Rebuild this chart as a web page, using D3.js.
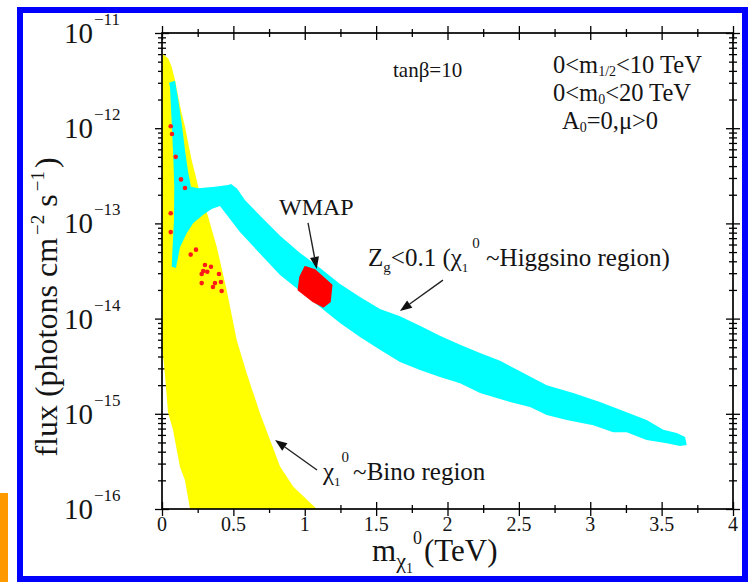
<!DOCTYPE html>
<html>
<head>
<meta charset="utf-8">
<script src="https://cdn.jsdelivr.net/npm/d3@7"></script>
<style>
  html, body { margin: 0; padding: 0; background: #fff; }
  svg { display: block; }
  text { font-family: "Liberation Serif", "Times New Roman", serif; fill: #141414; white-space: pre; }
</style>
</head>
<body>
<svg id="chart" width="751" height="582"></svg>
<script>
// Neutralino mass (TeV) versus gamma-ray flux (photons cm^-2 s^-1), tanβ = 10 scan.

const xTickValues = [0, 0.5, 1, 1.5, 2, 2.5, 3, 3.5, 4];
const xTickLabels = ["0", "0.5", "1", "1.5", "2", "2.5", "3", "3.5", "4"];
const xMinorValues = [0.25, 0.75, 1.25, 1.75, 2.25, 2.75, 3.25, 3.75];
const yDecadeExponents = [-16, -15, -14, -13, -12, -11];
const yTickLabels = ["−16", "−15", "−14", "−13", "−12", "−11"];

// Bino-like region outline: [mass, flux]
const binoRegion = [
  [0, 6.1e-12], [0.044, 5.4e-12], [0.068, 4.4e-12], [0.091, 3.2e-12], [0.114, 2.14e-12],
  [0.138, 1.43e-12], [0.161, 1.04e-12], [0.184, 6.9e-13], [0.208, 4.6e-13], [0.231, 3.36e-13],
  [0.254, 2.43e-13], [0.324, 1.17e-13], [0.383, 5.7e-14], [0.453, 2.0e-14], [0.523, 6.0e-15],
  [0.593, 2.66e-15], [0.687, 1.01e-15], [0.757, 5.3e-16], [0.827, 2.8e-16], [0.920, 1.71e-16],
  [1.084, 1e-16], [0.196, 1e-16], [0.161, 2.0e-16], [0.126, 2.76e-16], [0.077, 6.8e-16],
  [0.042, 1.04e-15], [0.021, 2.56e-15], [0, 5.3e-15]
];

// Higgsino-like region (Z_g < 0.1) outline: [mass, flux]
const higgsinoRegion = [
  [0.049, 3.0e-12], [0.091, 3.15e-12], [0.114, 1.98e-12], [0.138, 1.135e-12], [0.161, 5.9e-13],
  [0.184, 3.38e-13], [0.203, 2.43e-13], [0.254, 2.34e-13], [0.371, 2.43e-13], [0.464, 2.53e-13],
  [0.483, 2.59e-13], [0.525, 2.33e-13], [0.581, 1.76e-13], [0.687, 1.20e-13], [0.827, 7.4e-14],
  [0.967, 4.9e-14], [1.107, 3.4e-14], [1.247, 2.31e-14], [1.387, 1.69e-14], [1.527, 1.26e-14],
  [1.667, 1.06e-14], [1.807, 8.4e-15], [1.947, 6.6e-15], [2.088, 5.3e-15], [2.228, 4.35e-15],
  [2.368, 3.6e-15], [2.508, 2.8e-15], [2.695, 2.0e-15], [2.881, 1.65e-15], [3.068, 1.33e-15],
  [3.255, 1.04e-15], [3.395, 8.6e-16], [3.512, 6.8e-16], [3.606, 6.3e-16], [3.664, 5.7e-16],
  [3.676, 4.7e-16], [3.629, 4.6e-16], [3.536, 4.9e-16], [3.395, 5.3e-16], [3.255, 6.4e-16],
  [3.161, 6.4e-16], [3.021, 7.6e-16], [2.835, 8.6e-16], [2.695, 9.7e-16], [2.578, 1.18e-15],
  [2.415, 1.36e-15], [2.228, 1.65e-15], [2.088, 2.1e-15], [1.947, 2.44e-15], [1.807, 2.88e-15],
  [1.667, 3.5e-15], [1.527, 4.7e-15], [1.387, 6.4e-15], [1.247, 9.0e-15], [1.107, 1.32e-14],
  [0.967, 1.95e-14], [0.827, 2.87e-14], [0.687, 4.8e-14], [0.546, 8.1e-14], [0.453, 1.23e-13],
  [0.406, 1.52e-13], [0.348, 1.42e-13], [0.289, 1.23e-13], [0.219, 1.01e-13], [0.173, 7.9e-14],
  [0.126, 5.6e-14], [0.098, 3.4e-14], [0.068, 3.5e-14], [0.072, 4.9e-14], [0.084, 1.09e-13],
  [0.086, 2.41e-13], [0.079, 5.0e-13], [0.068, 1.135e-12], [0.056, 2.71e-12]
];

// WMAP-compatible patch: [mass, flux]
const wmapRegion = [
  [1.002, 3.5e-14], [1.072, 3.24e-14], [1.189, 2.25e-14], [1.177, 1.51e-14],
  [1.130, 1.33e-14], [1.060, 1.51e-14], [0.955, 2.0e-14], [0.967, 2.75e-14]
];

// Individual WMAP-compatible model points: [mass, flux]
const wmapPoints = [
  [0.061, 1.05e-12], [0.070, 8.7e-13], [0.096, 5.0e-13], [0.133, 2.9e-13], [0.161, 2.35e-13],
  [0.061, 1.28e-13], [0.061, 8.1e-14], [0.238, 5.3e-14], [0.201, 4.7e-14], [0.301, 3.66e-14],
  [0.343, 3.5e-14], [0.289, 3.16e-14], [0.317, 3.1e-14], [0.278, 2.94e-14], [0.399, 2.94e-14],
  [0.278, 2.36e-14], [0.413, 2.42e-14], [0.371, 2.36e-14], [0.357, 2.15e-14], [0.418, 1.95e-14]
];

// Annotation arrows: [tailMass, tailFlux, tipMass, tipFlux]
const arrowWmap = [1.023, 1.01e-13, 1.084, 3.32e-14];
const arrowHiggsino = [1.968, 2.54e-14, 1.667, 1.2e-14];
const arrowBino = [1.086, 2.57e-16, 0.792, 5.3e-16];

const svg = d3.select("#chart");

const x = d3.scaleLinear().domain([0, 4]).range([162, 733]);
const y = d3.scaleLog().domain([1e-16, 1e-11]).range([509, 33]);

const yMajor = yDecadeExponents.map(e => Math.pow(10, e));
const yMinor = [];
yDecadeExponents.slice(0, -1).forEach(e => {
  for (let k = 2; k <= 9; k++) yMinor.push(k * Math.pow(10, e));
});

// Outer page frame and side marker
svg.append("rect")
  .attr("x", 20).attr("y", 10).attr("width", 725).attr("height", 569)
  .attr("fill", "none").attr("stroke", "#0000ff").attr("stroke-width", 6);
svg.append("rect")
  .attr("x", 0).attr("y", 493).attr("width", 8).attr("height", 89)
  .attr("fill", "#ff9900");

// Tick marks crossing each side of the frame (drawn beneath the regions)
function tickLayer(axis, values, len, tx, ty) {
  const g = svg.append("g")
    .attr("transform", `translate(${tx},${ty})`)
    .call(axis.tickValues(values).tickSize(len).tickFormat(""));
  g.select(".domain").remove();
  g.selectAll(".tick text").remove();
  g.selectAll(".tick line").each(function () {
    const l = d3.select(this);
    const x2 = +(l.attr("x2") || 0), y2 = +(l.attr("y2") || 0);
    l.attr("x1", -x2).attr("y1", -y2);
  }).attr("stroke", "#000").attr("stroke-width", 1.3);
}
const x0 = x(0), x1 = x(4), yb = y(1e-16), yt = y(1e-11);
tickLayer(d3.axisBottom(x), xTickValues, 7, 0, yb);
tickLayer(d3.axisBottom(x), xMinorValues, 4, 0, yb);
tickLayer(d3.axisTop(x), xTickValues, 7, 0, yt);
tickLayer(d3.axisTop(x), xMinorValues, 4, 0, yt);
tickLayer(d3.axisLeft(y), yMajor, 7, x0, 0);
tickLayer(d3.axisLeft(y), yMinor, 4, x0, 0);
tickLayer(d3.axisRight(y), yMajor, 7, x1, 0);
tickLayer(d3.axisRight(y), yMinor, 4, x1, 0);

// Filled regions
const outline = d3.line().x(d => x(d[0])).y(d => y(d[1]));
svg.append("path").attr("d", outline(binoRegion) + "Z").attr("fill", "#ffff00");
svg.append("path").attr("d", outline(higgsinoRegion) + "Z").attr("fill", "#00ffff");
svg.append("path").attr("d", outline(wmapRegion) + "Z").attr("fill", "#ff0000")
  .attr("stroke", "#ff0000").attr("stroke-width", 1.5).attr("stroke-linejoin", "round");

svg.append("g").selectAll("circle").data(wmapPoints).join("circle")
  .attr("cx", d => x(d[0])).attr("cy", d => y(d[1])).attr("r", 2.3)
  .attr("fill", "#ff1a1a");

// Plot frame
svg.append("rect")
  .attr("x", x0).attr("y", yt).attr("width", x1 - x0).attr("height", yb - yt)
  .attr("fill", "none").attr("stroke", "#000").attr("stroke-width", 1.7);

// Tick labels
svg.append("g").selectAll("text").data(xTickValues).join("text")
  .attr("x", d => x(d)).attr("y", yb + 22)
  .attr("text-anchor", "middle").attr("font-size", 20)
  .text((d, i) => xTickLabels[i]);

const yLab = svg.append("g");
yDecadeExponents.forEach((e, i) => {
  const v = Math.pow(10, e);
  yLab.append("text").attr("x", 93).attr("y", y(v) + 10)
    .attr("text-anchor", "end").attr("font-size", 29).text("10");
  yLab.append("text").attr("x", 94).attr("y", y(v) - 8)
    .attr("font-size", 17).text(yTickLabels[i]);
});

// Text built from runs with sub/superscript offsets
function rich(sel, parts) {
  let prev = 0;
  parts.forEach(p => {
    const shift = p.shift || 0;
    const ts = sel.append("tspan").attr("dy", shift - prev).attr("font-size", p.size).text(p.text);
    if (p.dx) ts.attr("dx", p.dx);
    prev = shift;
  });
  return sel;
}

// Axis titles
rich(svg.append("text").attr("x", 372).attr("y", 561), [
  { text: "m", size: 31 },
  { text: "χ", size: 22, shift: 7 },
  { text: "1", size: 14, shift: 12 },
  { text: "0", size: 18, shift: -17 },
  { text: "(TeV)", size: 31, shift: 0, dx: 2 }
]);

rich(svg.append("text").attr("transform", "translate(57,307) rotate(-90)")
  .attr("text-anchor", "middle"), [
  { text: "flux (photons cm", size: 32 },
  { text: "−2", size: 19, shift: -13, dx: 3 },
  { text: " s", size: 32, shift: 0 },
  { text: "−1", size: 19, shift: -13, dx: 3 },
  { text: ")", size: 32, shift: 0, dx: 3 }
]);

// Scan parameters
svg.append("text").attr("x", 393).attr("y", 77).attr("font-size", 21).text("tanβ=10");
rich(svg.append("text").attr("x", 553).attr("y", 73), [
  { text: "0<m", size: 24.5 }, { text: "1/2", size: 14, shift: 3 }, { text: "<10 TeV", size: 24.5, shift: 0 }
]);
rich(svg.append("text").attr("x", 553).attr("y", 101), [
  { text: "0<m", size: 24.5 }, { text: "0", size: 14, shift: 3 }, { text: "<20 TeV", size: 24.5, shift: 0 }
]);
rich(svg.append("text").attr("x", 562).attr("y", 129), [
  { text: "A", size: 24.5 }, { text: "0", size: 14, shift: 3 }, { text: "=0,μ>0", size: 24.5, shift: 0 }
]);

// Region labels
svg.append("text").attr("x", 279).attr("y", 215).attr("font-size", 24).text("WMAP");
rich(svg.append("text").attr("x", 368).attr("y", 266), [
  { text: "Z", size: 25 }, { text: "g", size: 15, shift: 6 },
  { text: "<0.1 (χ", size: 25, shift: 0 },
  { text: "1", size: 13, shift: 6 },
  { text: "0", size: 15, shift: -18, dx: 4 },
  { text: " ~Higgsino region)", size: 25, shift: 0 }
]);
rich(svg.append("text").attr("x", 323).attr("y", 480), [
  { text: "χ", size: 25 },
  { text: "1", size: 13, shift: 6 },
  { text: "0", size: 15, shift: -18, dx: 1 },
  { text: "~Bino region", size: 25, shift: 0, dx: 4 }
]);

// Annotation arrows
function arrow(a) {
  const tx = x(a[0]), ty = y(a[1]), hx = x(a[2]), hy = y(a[3]);
  const ang = Math.atan2(hy - ty, hx - tx);
  const L = 12, W = 4.5;
  const bx = hx - L * Math.cos(ang), by = hy - L * Math.sin(ang);
  svg.append("line").attr("x1", tx).attr("y1", ty).attr("x2", bx).attr("y2", by)
    .attr("stroke", "#222").attr("stroke-width", 1.4);
  const px = -Math.sin(ang) * W, py = Math.cos(ang) * W;
  svg.append("path")
    .attr("d", `M${hx},${hy}L${bx + px},${by + py}L${bx - px},${by - py}Z`)
    .attr("fill", "#111");
}
arrow(arrowWmap);
arrow(arrowHiggsino);
arrow(arrowBino);
</script>
</body>
</html>
